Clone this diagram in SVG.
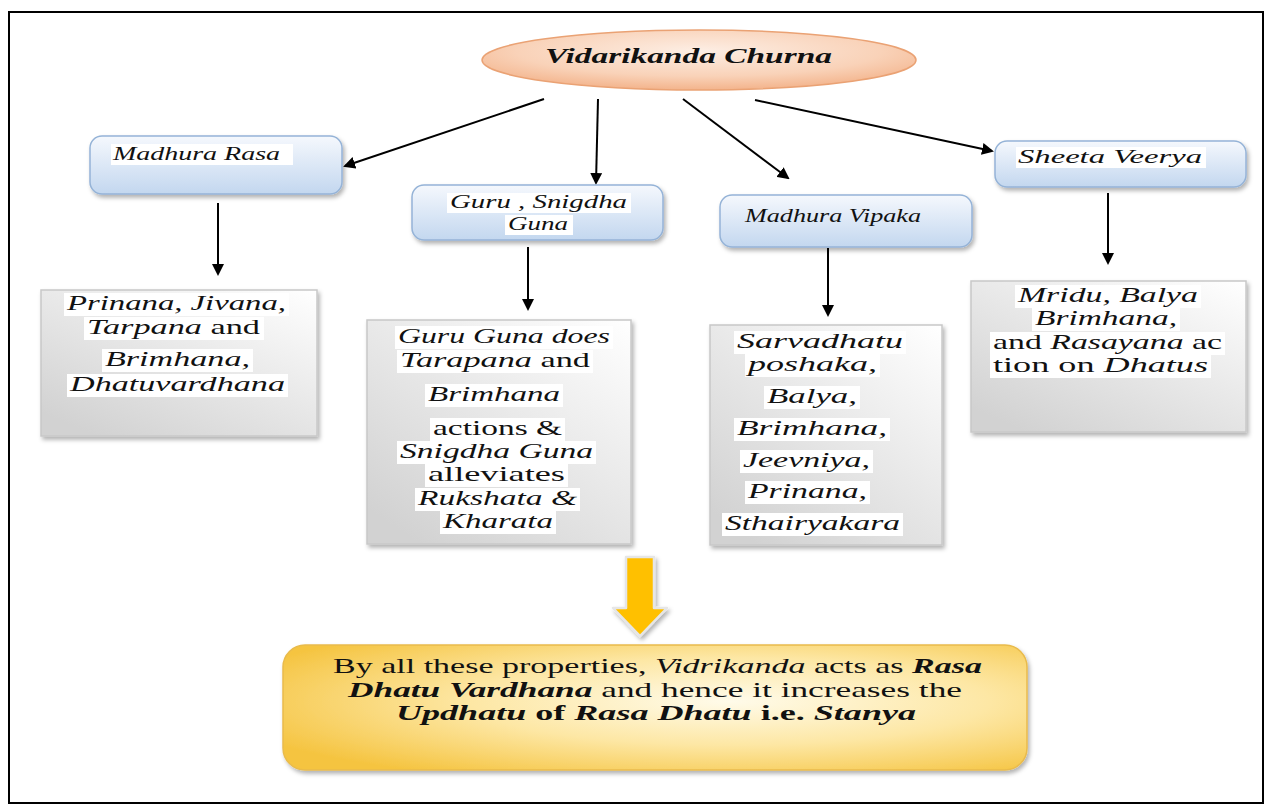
<svg xmlns="http://www.w3.org/2000/svg" width="1273" height="812" viewBox="0 0 1273 812">
<defs>
  <style>
    .t{font-family:"Liberation Serif","Times New Roman",serif;fill:#111;}
    .i{font-style:italic;}
    .b{font-weight:bold;}
    .n{font-style:normal;}
    .c{stroke:#000;stroke-width:2;fill:none;marker-end:url(#ah);}
    .blue{fill:url(#gBlue);stroke:#95b3d7;stroke-width:1.5;filter:url(#sh);}
    .grey{fill:url(#gGrey);stroke:#c8c8c8;stroke-width:1.5;filter:url(#sh);}
    .hl{fill:#fff;}
    .bt{font-size:22px;}
    .lb{font-size:18px;}
  </style>
  <marker id="ah" markerWidth="12" markerHeight="12" refX="10" refY="6" orient="auto" markerUnits="userSpaceOnUse">
    <path d="M0,0 L12,6 L0,12 Z" fill="#000"/>
  </marker>
  <linearGradient id="gBlue" x1="0" y1="0" x2="0" y2="1">
    <stop offset="0" stop-color="#f5f8fd"/>
    <stop offset="1" stop-color="#c3d7ef"/>
  </linearGradient>
  <linearGradient id="gGrey" x1="1" y1="0" x2="0.2" y2="1">
    <stop offset="0" stop-color="#ffffff"/>
    <stop offset="1" stop-color="#d2d2d2"/>
  </linearGradient>
  <radialGradient id="gEll" cx="0.5" cy="0.35" r="0.7">
    <stop offset="0" stop-color="#fdeee4"/>
    <stop offset="0.6" stop-color="#f9d2b8"/>
    <stop offset="1" stop-color="#f2ad82"/>
  </radialGradient>
  <radialGradient id="gYel" cx="0.6" cy="0.45" r="0.7">
    <stop offset="0" stop-color="#fffbea"/>
    <stop offset="0.5" stop-color="#fde7a4"/>
    <stop offset="1" stop-color="#f5c440"/>
  </radialGradient>
  <filter id="sh" x="-10%" y="-10%" width="125%" height="130%">
    <feDropShadow dx="2" dy="3" stdDeviation="2" flood-color="#000" flood-opacity="0.3"/>
  </filter>
</defs>

<rect x="0" y="0" width="1273" height="812" fill="#fff"/>
<rect x="9" y="12" width="1254" height="791" fill="none" stroke="#000" stroke-width="2"/>

<g id="connectors">
  <line class="c" x1="544" y1="99" x2="345" y2="166"/>
  <line class="c" x1="598" y1="99" x2="596" y2="183"/>
  <line class="c" x1="683" y1="99" x2="788" y2="178"/>
  <line class="c" x1="755" y1="100" x2="992" y2="151"/>
  <line class="c" x1="218" y1="203" x2="218" y2="274"/>
  <line class="c" x1="528" y1="247" x2="528" y2="309"/>
  <line class="c" x1="828" y1="248" x2="828" y2="315"/>
  <line class="c" x1="1108" y1="193" x2="1108" y2="263"/>
  <g id="big-arrow" filter="url(#sh)">
    <polygon points="626,557 654,557 654,608 667,608 640,636 613,608 626,608" fill="#ffc000" stroke="#e6e6e6" stroke-width="2.5" stroke-linejoin="round"/>
  </g>
</g>

<g id="root">
  <ellipse cx="699" cy="60" rx="217" ry="30" fill="url(#gEll)" stroke="#eaa274" stroke-width="1.5"/>
  <text class="t i b" x="545" y="63" font-size="22" textLength="287" lengthAdjust="spacingAndGlyphs">Vidarikanda Churna</text>
</g>

<g id="madhura-rasa">
  <rect class="blue" x="90" y="136" width="252" height="58" rx="12"/>
  <rect class="hl" x="111" y="144" width="182" height="21"/>
  <text class="t i lb" x="113" y="160" textLength="167" lengthAdjust="spacingAndGlyphs">Madhura Rasa</text>
</g>

<g id="guru-snigdha">
  <rect class="blue" x="412" y="185" width="251" height="55" rx="12"/>
  <rect class="hl" x="447" y="193" width="184" height="20"/>
  <text class="t i lb" x="450" y="208" textLength="177" lengthAdjust="spacingAndGlyphs">Guru , Snigdha</text>
  <rect class="hl" x="505" y="215" width="68" height="20"/>
  <text class="t i lb" x="508" y="230" textLength="60" lengthAdjust="spacingAndGlyphs">Guna</text>
</g>

<g id="madhura-vipaka">
  <rect class="blue" x="720" y="195" width="252" height="52" rx="12"/>
  <text class="t i lb" x="745" y="222" textLength="176" lengthAdjust="spacingAndGlyphs">Madhura Vipaka</text>
</g>

<g id="sheeta-veerya">
  <rect class="blue" x="995" y="141" width="251" height="46" rx="12"/>
  <rect class="hl" x="1016" y="147" width="190" height="21"/>
  <text class="t i lb" x="1018" y="163" textLength="184" lengthAdjust="spacingAndGlyphs">Sheeta Veerya</text>
</g>

<g id="box-rasa">
  <rect class="grey" x="41" y="290" width="276" height="146"/>
  <rect class="hl" x="64" y="293" width="225" height="23"/>
  <rect class="hl" x="84" y="317" width="180" height="23"/>
  <rect class="hl" x="102" y="349" width="151" height="23"/>
  <rect class="hl" x="67" y="374" width="221" height="23"/>
  <text class="t i bt" x="67" y="310" textLength="219" lengthAdjust="spacingAndGlyphs">Prinana, Jivana,</text>
  <text class="t i bt" x="87" y="334" textLength="173" lengthAdjust="spacingAndGlyphs">Tarpana<tspan class="n"> and</tspan></text>
  <text class="t i bt" x="105" y="366" textLength="145" lengthAdjust="spacingAndGlyphs">Brimhana,</text>
  <text class="t i bt" x="70" y="391" textLength="215" lengthAdjust="spacingAndGlyphs">Dhatuvardhana</text>
</g>

<g id="box-guru">
  <rect class="grey" x="367" y="320" width="264" height="224"/>
  <rect class="hl" x="395" y="326" width="218" height="23"/>
  <rect class="hl" x="397" y="350" width="196" height="23"/>
  <rect class="hl" x="425" y="384" width="138" height="23"/>
  <rect class="hl" x="430" y="418" width="135" height="23"/>
  <rect class="hl" x="397" y="441" width="199" height="23"/>
  <rect class="hl" x="425" y="464" width="143" height="23"/>
  <rect class="hl" x="415" y="488" width="165" height="23"/>
  <rect class="hl" x="440" y="511" width="116" height="23"/>
  <text class="t i bt" x="398" y="343" textLength="212" lengthAdjust="spacingAndGlyphs">Guru Guna does</text>
  <text class="t i bt" x="400" y="367" textLength="190" lengthAdjust="spacingAndGlyphs">Tarapana<tspan class="n"> and</tspan></text>
  <text class="t i bt" x="428" y="401" textLength="132" lengthAdjust="spacingAndGlyphs">Brimhana</text>
  <text class="t bt" x="433" y="435" textLength="129" lengthAdjust="spacingAndGlyphs">actions &amp;</text>
  <text class="t i bt" x="400" y="458" textLength="193" lengthAdjust="spacingAndGlyphs">Snigdha Guna</text>
  <text class="t bt" x="428" y="481" textLength="137" lengthAdjust="spacingAndGlyphs">alleviates</text>
  <text class="t i bt" x="418" y="505" textLength="159" lengthAdjust="spacingAndGlyphs">Rukshata &amp;</text>
  <text class="t i bt" x="443" y="528" textLength="110" lengthAdjust="spacingAndGlyphs">Kharata</text>
</g>

<g id="box-vipaka">
  <rect class="grey" x="710" y="325" width="232" height="220"/>
  <rect class="hl" x="734" y="331" width="172" height="23"/>
  <rect class="hl" x="745" y="354" width="135" height="23"/>
  <rect class="hl" x="764" y="386" width="96" height="23"/>
  <rect class="hl" x="734" y="418" width="156" height="23"/>
  <rect class="hl" x="740" y="450" width="133" height="23"/>
  <rect class="hl" x="745" y="481" width="125" height="23"/>
  <rect class="hl" x="722" y="513" width="181" height="23"/>
  <text class="t i bt" x="737" y="348" textLength="166" lengthAdjust="spacingAndGlyphs">Sarvadhatu</text>
  <text class="t i bt" x="748" y="371" textLength="129" lengthAdjust="spacingAndGlyphs">poshaka,</text>
  <text class="t i bt" x="767" y="403" textLength="90" lengthAdjust="spacingAndGlyphs">Balya,</text>
  <text class="t i bt" x="737" y="435" textLength="150" lengthAdjust="spacingAndGlyphs">Brimhana,</text>
  <text class="t i bt" x="743" y="467" textLength="127" lengthAdjust="spacingAndGlyphs">Jeevniya,</text>
  <text class="t i bt" x="748" y="498" textLength="119" lengthAdjust="spacingAndGlyphs">Prinana,</text>
  <text class="t i bt" x="725" y="530" textLength="175" lengthAdjust="spacingAndGlyphs">Sthairyakara</text>
</g>

<g id="box-veerya">
  <rect class="grey" x="971" y="281" width="275" height="151"/>
  <rect class="hl" x="1015" y="285" width="186" height="23"/>
  <rect class="hl" x="1032" y="308" width="148" height="23"/>
  <rect class="hl" x="990" y="332" width="235" height="23"/>
  <rect class="hl" x="990" y="355" width="221" height="23"/>
  <text class="t i bt" x="1018" y="302" textLength="180" lengthAdjust="spacingAndGlyphs">Mridu, Balya</text>
  <text class="t i bt" x="1035" y="325" textLength="142" lengthAdjust="spacingAndGlyphs">Brimhana,</text>
  <text class="t bt" x="993" y="349" textLength="229" lengthAdjust="spacingAndGlyphs">and <tspan class="i">Rasayana</tspan> ac</text>
  <text class="t bt" x="993" y="372" textLength="215" lengthAdjust="spacingAndGlyphs">tion on <tspan class="i">Dhatus</tspan></text>
</g>

<g id="conclusion">
  <rect x="283" y="645" width="744" height="125" rx="22" fill="url(#gYel)" stroke="#e9bb4c" stroke-width="1.5" filter="url(#sh)"/>
  <text class="t bt" x="333" y="673" textLength="649" lengthAdjust="spacingAndGlyphs">By all these properties, <tspan class="i">Vidrikanda</tspan> acts as <tspan class="i b">Rasa</tspan></text>
  <text class="t bt" x="348" y="697" textLength="614" lengthAdjust="spacingAndGlyphs"><tspan class="i b">Dhatu Vardhana</tspan> and hence it increases the</text>
  <text class="t bt b" x="396" y="720" textLength="520" lengthAdjust="spacingAndGlyphs"><tspan class="i">Updhatu</tspan> of <tspan class="i">Rasa Dhatu</tspan> i.e. <tspan class="i">Stanya</tspan></text>
</g>
</svg>
